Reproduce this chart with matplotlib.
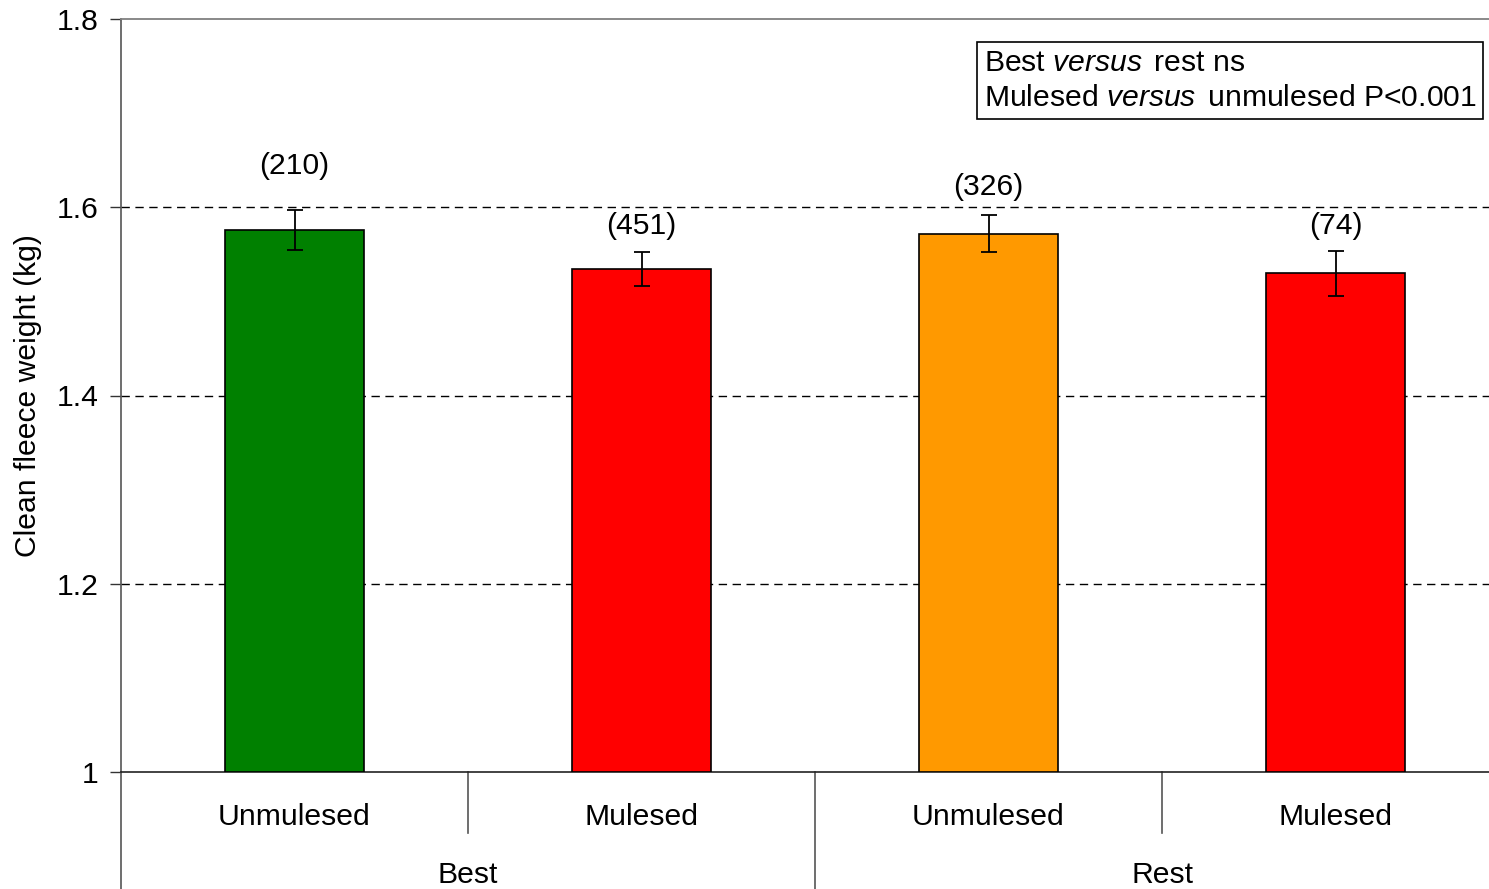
import matplotlib
matplotlib.use("Agg")
import matplotlib.pyplot as plt
from matplotlib.lines import Line2D

plt.rcParams['font.family'] = ['Liberation Sans', 'DejaVu Sans']
plt.rcParams['mathtext.fontset'] = 'custom'
plt.rcParams['mathtext.rm'] = 'Liberation Sans'
plt.rcParams['mathtext.it'] = 'Liberation Sans:italic'

categories = ["Unmulesed", "Mulesed", "Unmulesed", "Mulesed"]
groups = ["Best", "Rest"]
values = [1.576, 1.534, 1.572, 1.530]
errors = [0.021, 0.018, 0.020, 0.024]
counts = ["(210)", "(451)", "(326)", "(74)"]
label_heights = [1.644, 1.580, 1.622, 1.580]
colors = ["#008000", "#FF0000", "#FF9900", "#FF0000"]
yticks = [1.0, 1.2, 1.4, 1.6, 1.8]
ytick_labels = ["1", "1.2", "1.4", "1.6", "1.8"]

FS = 21.7
W, H = 1489, 889
fig = plt.figure(figsize=(W / 100, H / 100), dpi=100)
left, right, top, bottom = 121, 1509, 19, 772
ax = fig.add_axes([left / W, (H - bottom) / H, (right - left) / W, (bottom - top) / H])

x = list(range(len(values)))
ax.bar(x, [v - 1.0 for v in values], bottom=1.0, width=0.4, color=colors,
       edgecolor="black", linewidth=1.2, zorder=3)
ax.errorbar(x, values, yerr=errors, fmt="none", ecolor="black", elinewidth=1.3,
            capsize=6, capthick=1.3, zorder=4)
for xi, lab, ly in zip(x, counts, label_heights):
    ax.text(xi, ly, lab, ha="center", va="center", fontsize=FS, zorder=5)

ax.set_xlim(-0.5, 3.5)
ax.set_ylim(1.0, 1.8)
ax.set_yticks(yticks)
ax.set_yticklabels(ytick_labels, fontsize=FS)
ax.tick_params(axis="y", direction="out", length=8, width=1, color="#333333", pad=8)
ax.set_xticks([])
for yv in yticks[1:-1]:
    ax.axhline(yv, color="black", lw=1, linestyle=(0, (6, 4)), zorder=1)

ax.spines["right"].set_visible(False)
ax.spines["top"].set_color("#808080")
ax.spines["top"].set_linewidth(1.3)
ax.spines["left"].set_color("#555555")
ax.spines["left"].set_linewidth(1.2)
ax.spines["bottom"].set_color("#222222")
ax.spines["bottom"].set_linewidth(1.2)

ax.set_ylabel("Clean fleece weight (kg)", fontsize=FS)
ax.yaxis.set_label_coords((42 - left) / (right - left), 0.5)

# category and group labels under axis
trans = ax.get_xaxis_transform()
ax_h = bottom - top
def yax(py):
    return (bottom - py) / ax_h
for xi, c in zip(x, categories):
    ax.text(xi, yax(817), c, transform=trans, ha="center", va="center", fontsize=FS)
for gi, g in enumerate(groups):
    ax.text(gi * 2 + 0.5, yax(875), g, transform=trans, ha="center", va="center", fontsize=FS)
# separators
for sx in [0.5, 2.5]:
    ax.add_line(Line2D([sx, sx], [0, yax(833)], transform=trans, color="#555555", lw=1.2, clip_on=False))
for sx in [-0.5, 1.5]:
    ax.add_line(Line2D([sx, sx], [0, yax(H + 5)], transform=trans, color="#555555", lw=1.2, clip_on=False))

# annotation box
fig.text(984 / W, 1 - 80.5 / H,
         "Best $\\mathit{versus}\\,$ rest ns\nMulesed $\\mathit{versus}\\,$ unmulesed P<0.001",
         ha="left", va="center", fontsize=FS, linespacing=1.32,
         bbox=dict(boxstyle="square,pad=0.22", facecolor="white", edgecolor="black", linewidth=1.2))

fig.savefig("out.png", dpi=100, facecolor="white")
